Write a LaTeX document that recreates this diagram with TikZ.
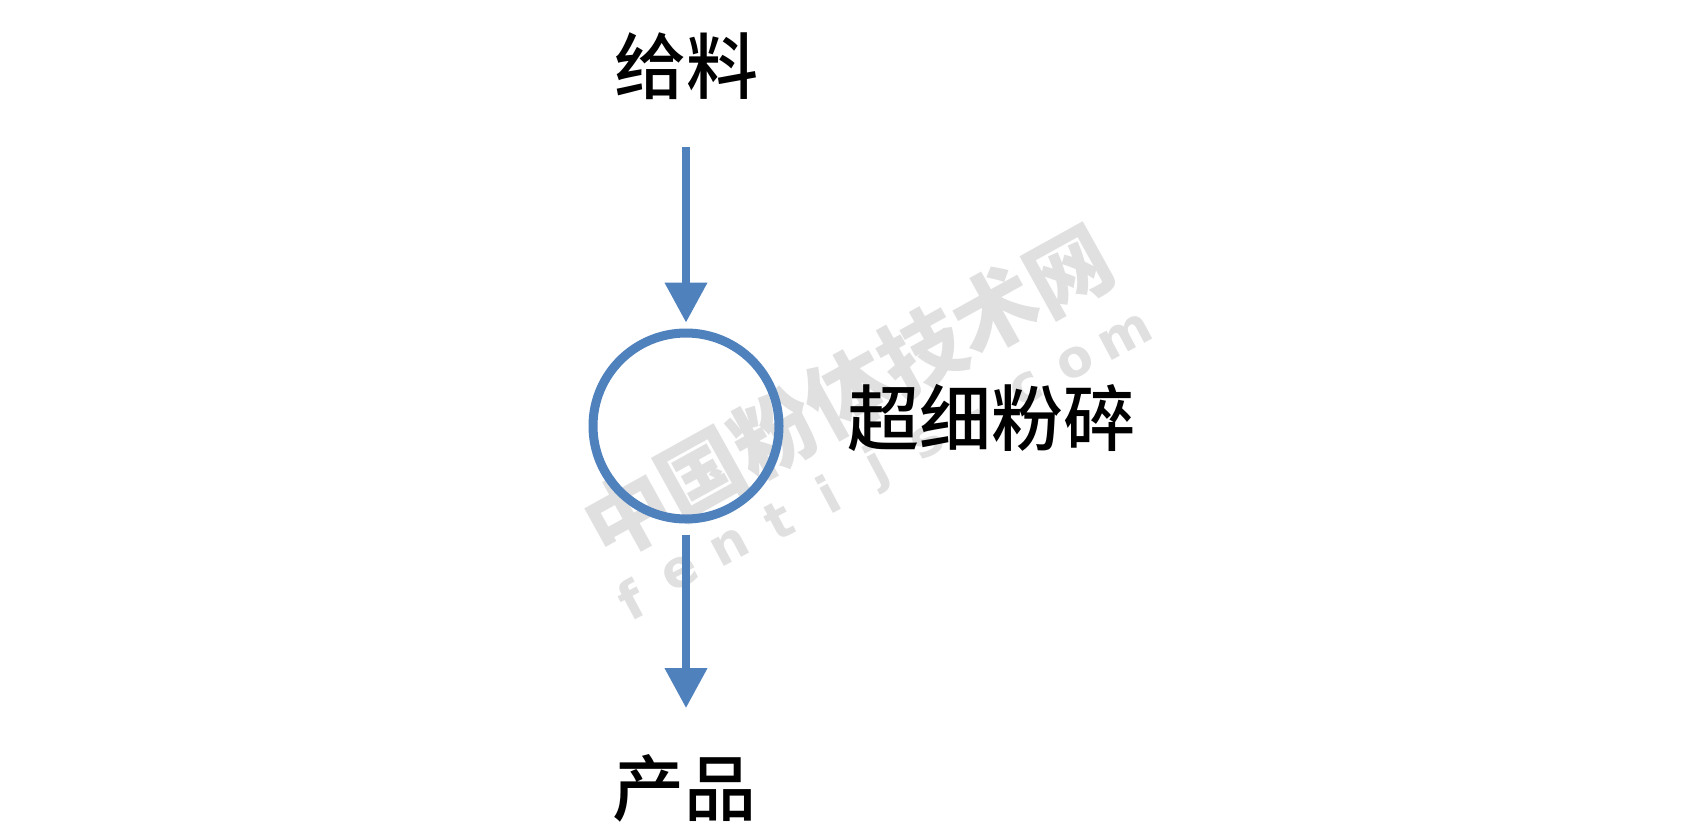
\documentclass[tikz,border=0pt]{standalone}
\usepackage{fontspec}
\newfontfamily\cjk{Noto Sans CJK SC Medium}
\newfontfamily\cjkbold{Noto Sans CJK SC Black}
\usetikzlibrary{arrows.meta}
\definecolor{flowblue}{RGB}{79,129,189}
\tikzset{
  lbl/.style={inner sep=0pt, font=\cjk\fontsize{72}{80}\selectfont, text=black},
  arr/.style={draw=flowblue, line width=7.5pt, -{Triangle[length=40pt,width=41pt]}},
  mill/.style={circle, draw=flowblue, line width=9pt, minimum size=186pt, inner sep=0pt},
  wmark/.style={inner sep=0pt, text=black, opacity=0.12},
}
\begin{document}
\begin{tikzpicture}[x=1pt,y=-1pt]
\useasboundingbox[fill=white] (0,0) rectangle (1688,839);
% watermark
\node[wmark, rotate=29, font=\cjkbold\fontsize{84}{84}\selectfont] (wmcn) at (848,392) {中国粉体技术网};
\foreach \ch [count=\i] in {f,e,n,t,i,j,s,.,c,o,m}{
  \node[wmark, rotate=28, font=\fontspec{DejaVu Sans Bold}\fontsize{52}{52}\selectfont]
    (wm\i) at ({878+(\i-6)*56*cos(28)},{468-(\i-6)*56*sin(28)}) {\ch};
}
% diagram
\node[lbl] (feed) at (686,66) {给料};
\node[mill] (mill) at (686,426) {};
\node[lbl, anchor=west] (label) at (847,418) {超细粉碎};
\node[lbl] (prod) at (684,788) {产品};
\coordinate (feedtop) at (686,147);
\coordinate (prodtip) at (686,708);
\draw[arr] (feedtop) -- ([yshift=6pt]mill.north);
\draw[arr] ([yshift=-11pt]mill.south) -- (prodtip);
\end{tikzpicture}
\end{document}
